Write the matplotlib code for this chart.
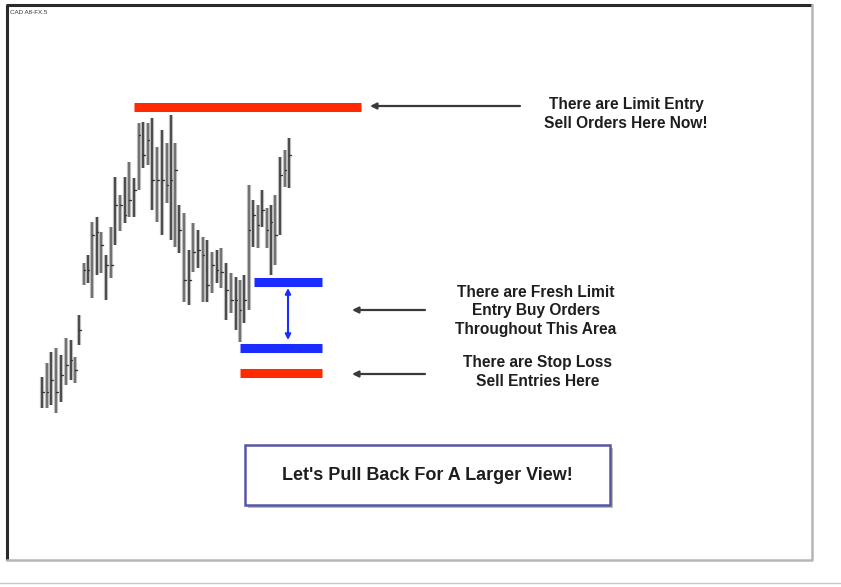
import matplotlib
matplotlib.use("Agg")
import matplotlib.pyplot as plt
from matplotlib.patches import Rectangle

plt.rcParams['font.family'] = ['Liberation Sans', 'DejaVu Sans']

# price bars (chart units, smaller = higher on screen)
bar_x = [42, 47, 51, 56, 61, 66, 71, 75, 79, 84, 88, 92, 97, 101, 106, 111, 115, 120,
         125, 129, 134, 139, 143, 148, 152, 157, 162, 167, 171, 175, 179, 184, 189, 193,
         198, 203, 207, 212, 217, 221, 226, 231, 236, 240, 244, 249, 253, 258, 262, 267,
         271, 275, 280, 285, 289]
highs = [377, 363, 352, 348, 355, 338, 340, 357, 315, 263, 255, 222, 217, 232, 255, 227, 177, 195,
         177, 162, 178, 123, 122, 123, 118, 147, 130, 143, 115, 143, 205, 213, 250, 223,
         230, 237, 240, 252, 250, 248, 263, 273, 277, 280, 275, 185, 200, 205, 190, 208,
         205, 195, 157, 150, 138]
lows = [408, 408, 405, 413, 402, 385, 380, 383, 345, 285, 283, 298, 275, 273, 300, 278, 245, 231,
        223, 217, 217, 190, 168, 165, 210, 222, 235, 203, 240, 247, 253, 302, 305, 272,
        268, 302, 302, 293, 283, 288, 320, 313, 330, 342, 323, 310, 247, 248, 227, 248,
        275, 265, 235, 187, 188]
closes = [392, 392, 380, 392, 375, 365, 360, 370, 330, 270, 270, 235, 232, 245, 265, 265, 205, 205,
          215, 200, 190, 135, 155, 140, 180, 180, 180, 185, 180, 170, 230, 280, 280, 252,
          250, 255, 285, 265, 270, 272, 290, 300, 300, 310, 300, 230, 215, 225, 210, 230,
          222, 235, 175, 170, 155]

# order levels
levels = {
    'sell_limit': (134, 361, 106.5, '#ff2a00'),
    'buy_top': (254, 322, 281.5, '#1a2cff'),
    'buy_bottom': (240, 322, 347.5, '#1a2cff'),
    'stop': (240, 322, 373.0, '#ff2a00'),
}

notes = [
    ("There are Limit Entry\nSell Orders Here Now!", 626, 114, 520, 370, 106),
    ("There are Fresh Limit\nEntry Buy Orders\nThroughout This Area", 536, 311, 425, 352, 310),
    ("There are Stop Loss\nSell Entries Here", 538, 372, 425, 352, 374),
]

fig = plt.figure(figsize=(8.41, 5.87), dpi=100)
ax = fig.add_axes([0, 0, 1, 1])
ax.set_xlim(0, 841)
ax.set_ylim(587, 0)
ax.axis('off')

# chart frame
ax.plot([7, 7, 812], [560, 5, 5], color='#2a2a2a', lw=2.2, solid_capstyle='butt')
ax.plot([812, 812, 7], [5, 560, 560], color='#b5b5b5', lw=1.8)
ax.plot([0, 841], [583, 583], color='#c8c8c8', lw=1.0)
ax.text(10, 13, 'CAD A8-FX.5', fontsize=4.5, color='#333333', va='center')

for i, x in enumerate(bar_x):
    c = '#4a4a4a' if i % 2 == 0 else '#707070'
    ax.plot([x, x], [highs[i], lows[i]], color='#bdbdbd', lw=3.0, solid_capstyle='butt')
    ax.plot([x, x], [highs[i], lows[i]], color=c, lw=1.4, solid_capstyle='butt')
    ax.plot([x, x + 1.6], [closes[i], closes[i]], color='#333333', lw=0.9)

for name, (x0, x1, y, col) in levels.items():
    ax.plot([x0, x1], [y, y], color=col, lw=6.5, solid_capstyle='butt')

ax.annotate('', xy=(288, 288), xytext=(288, 340),
            arrowprops=dict(arrowstyle='<|-|>', color='#1a2cff', lw=1.5,
                            mutation_scale=8, shrinkA=0, shrinkB=0))

for txt, tx, ty, ax0, ax1, ay in notes:
    ax.text(tx, ty, txt, ha='center', va='center', fontsize=11.2, fontweight='bold',
            color='#1e1e1e', linespacing=1.32)
    ax.annotate('', xy=(ax1, ay), xytext=(ax0, ay),
                arrowprops=dict(arrowstyle='-|>', color='#3a3a3a', lw=1.6,
                                mutation_scale=9, shrinkA=0, shrinkB=0))

# call-out box with shadow
ax.add_patch(Rectangle((248, 448), 365, 60, facecolor='#b7c0a8', edgecolor='none'))
ax.add_patch(Rectangle((245, 445), 365, 60, facecolor='white', edgecolor='#5656a8', lw=1.8))
ax.text(427, 476, "Let's Pull Back For A Larger View!", ha='center', va='center',
        fontsize=13, fontweight='bold', color='#1e1e1e')

fig.savefig('out.png', dpi=100)
